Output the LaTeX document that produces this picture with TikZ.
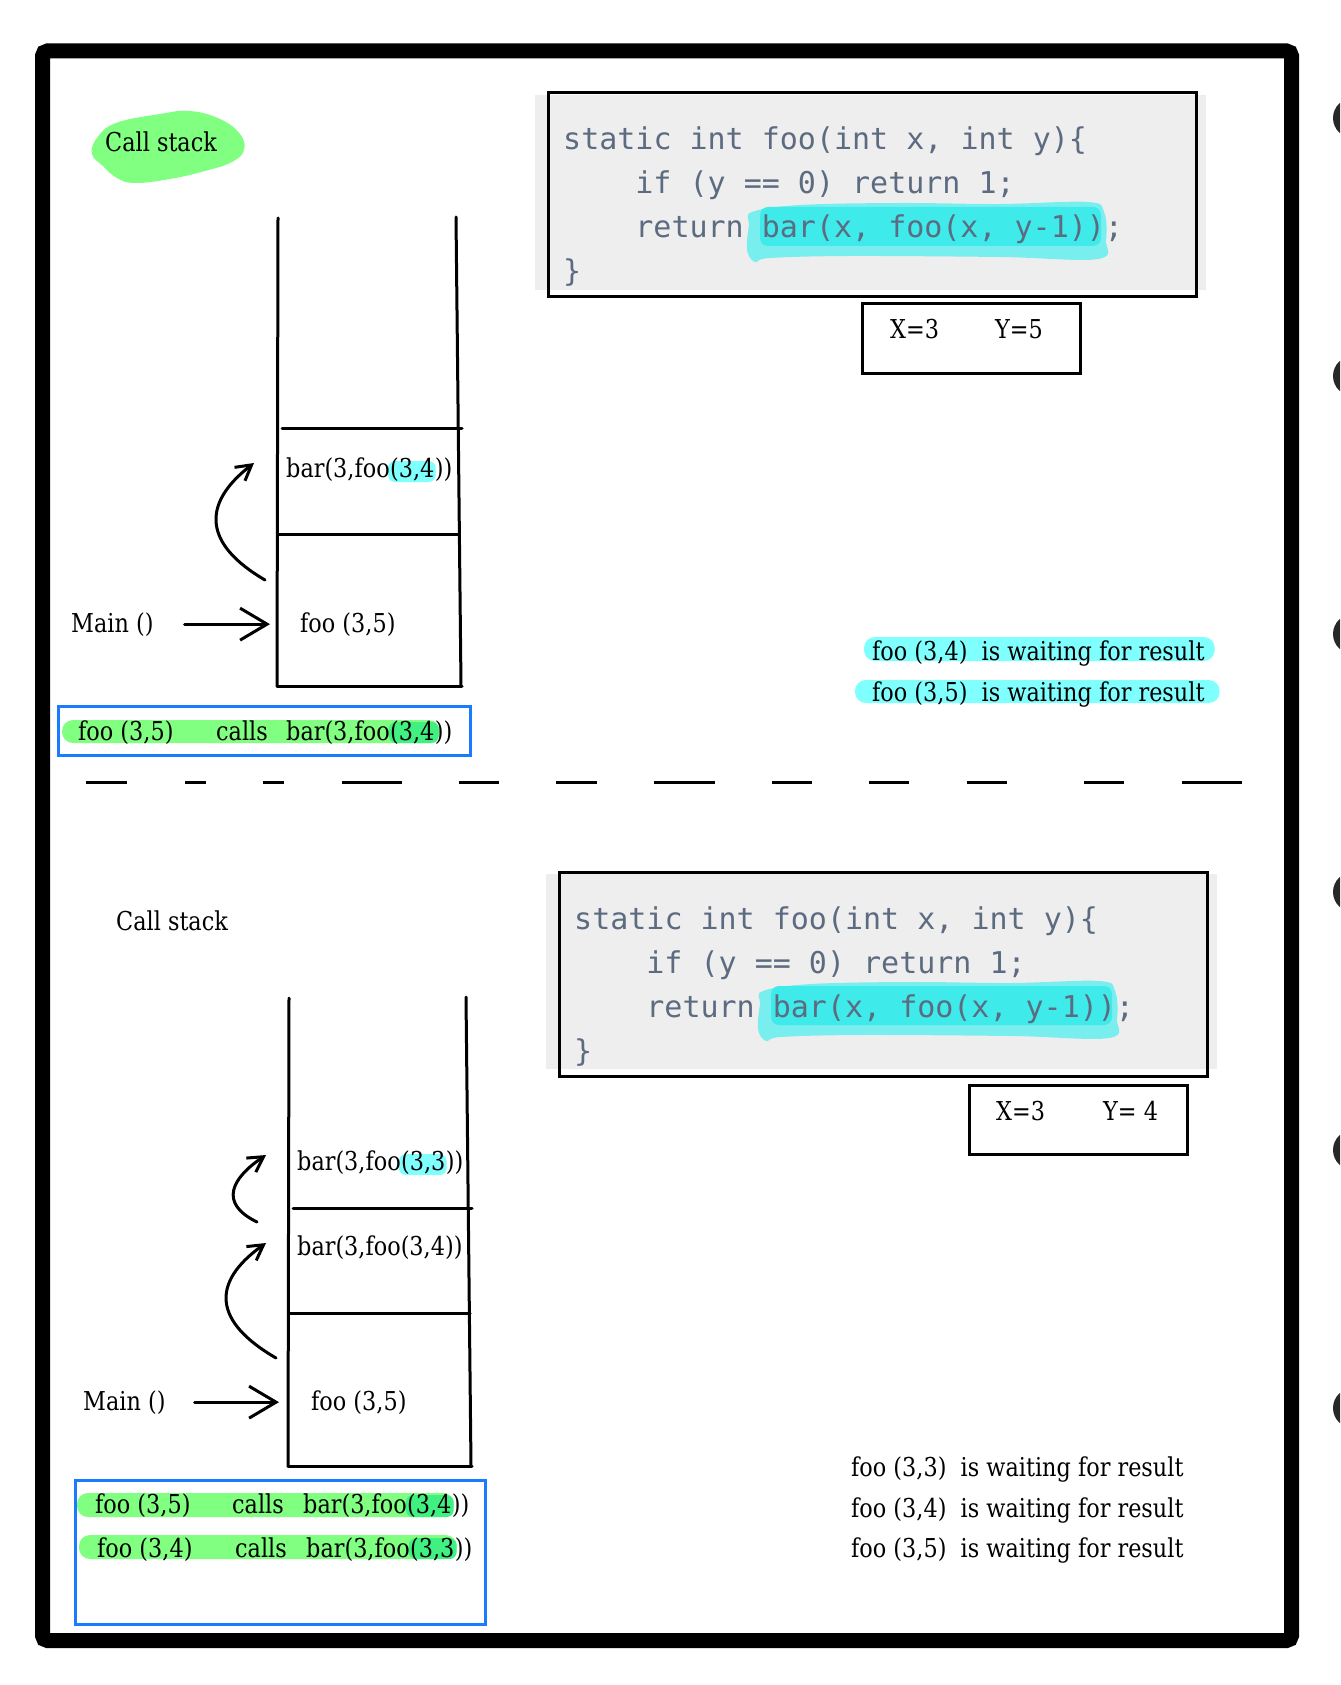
\documentclass[tikz,border=0pt]{standalone}
\usepackage{fontspec}
\setmainfont{DejaVu Serif}[FakeStretch=0.86]
\newfontfamily\codefont{DejaVu Sans Mono}
\usetikzlibrary{arrows.meta,backgrounds,calc}

\definecolor{hlgreen}{RGB}{128,255,128}
\definecolor{hlgreendark}{RGB}{64,240,128}
\definecolor{hlcyan}{RGB}{128,255,255}
\definecolor{markcore}{RGB}{62,234,234}
\definecolor{marksoft}{RGB}{120,238,238}
\definecolor{codebg}{RGB}{238,238,238}
\definecolor{codeink}{RGB}{92,107,128}
\definecolor{notebox}{RGB}{26,123,255}
\definecolor{tabdot}{RGB}{40,40,40}

\tikzset{
  lbl/.style={inner sep=0pt, anchor=base west, font=\fontsize{26}{31}\selectfont},
  codeline/.style={inner sep=0pt, anchor=base west, text=codeink,
    font=\codefont\fontsize{30}{36}\selectfont},
  stackline/.style={line width=3pt, line cap=round},
  boxline/.style={line width=3pt},
  mainarrow/.style={line width=3pt, line cap=round,
    -{Straight Barb[length=27pt,width=32pt,line width=3pt]}},
  pusharrow/.style={line width=3pt, line cap=round,
    -{Straight Barb[length=15pt,width=17pt,line width=3pt]}},
  band/.style={rounded corners=11pt},
}

% source listing with its marker stroke
\newcommand\listing[1]{%
  \fill[codebg] (535,95) rectangle (1206,290);
  \fill[marksoft] plot[smooth cycle, tension=0.6] coordinates {
    (752,212) (800,205) (900,203) (1000,204) (1088,202) (1104,212)
    (1106,240) (1098,259) (1000,257) (850,256) (770,258) (755,262)
    (747,250) (749,225)};
  \fill[markcore, rounded corners=8pt] (760,207) rectangle (1101,246);
  \draw[boxline] (548,93) rectangle (1196,297);
  \node[codeline] (#1a) at (563,150) {static int foo(int x, int y)\{};
  \node[codeline] (#1b) at (635.2,194) {if (y == 0) return 1;};
  \node[codeline] (#1c) at (635.2,238) {return bar(x, foo(x, y-1));};
  \node[codeline] (#1d) at (563,282) {\}};
}

\begin{document}
\begin{tikzpicture}[x=1pt,y=-1pt]
\useasboundingbox (0,0) rectangle (1340,1685);
\begin{scope}[on background layer]
  \fill[white] (0,0) rectangle (1340,1685);
\end{scope}
\clip (0,0) rectangle (1340,1685);

% page frame
\draw[line width=15pt, rounded corners=5pt] (42.5,51) rectangle (1291.5,1640.5);

% dark tabs at the right edge
\foreach \ty in {118,376,634,892,1150,1408}
  \fill[tabdot] (1353,\ty) circle[radius=20pt];

% ============ first step ============
\fill[hlgreen] plot[smooth cycle, tension=0.7] coordinates {
  (116,123) (160,114) (190,111) (220,119) (240,134) (244,150) (232,162)
  (205,171) (170,179) (135,183) (117,178) (103,166) (92,154) (97,138)};
\node[lbl] (cs1) at (105,152) {Call stack};

% stack
\draw[stackline] (278,218) -- (277,686);
\draw[stackline] (456,217) -- (461,686);
\draw[stackline] (282,428) -- (462,428);
\draw[stackline] (278,534) -- (459,534);
\draw[stackline] (277,686) -- (462,686);

\node[lbl] (bar1a) at (286,477) {bar(3,foo};
\node[lbl] (bar1b) at (bar1a.base east) {(3,4};
\node[lbl] (bar1c) at (bar1b.base east) {))};
\node[lbl] (foo1) at (300,632) {foo (3,5)};
\node[lbl] (main1) at (71,632) {Main ()};

\draw[mainarrow, shorten <=31pt, shorten >=30pt] (main1.east) -- (foo1.west);
\coordinate (up1s) at (265,580);
\coordinate (up1t) at (254,463);
\draw[pusharrow] (up1s) .. controls (205,545) and (200,505) .. (up1t);

% note box
\draw[notebox, line width=3pt] (58,706) rectangle (470,755);
\node[lbl] (n1a) at (78,740) {foo (3,5)};
\node[lbl] (n1b) at (216,740) {calls};
\node[lbl] (n1c) at (286,740) {bar(3,foo};
\node[lbl] (n1d) at (n1c.base east) {(3,4};
\node[lbl] (n1e) at (n1d.base east) {))};

% listing and arguments
\listing{codeA}
\draw[boxline] (862,304) rectangle (1080,373);
\node[lbl] (xa) at (890,338) {X=3};
\node[lbl] (ya) at (995,338) {Y=5};

\node[lbl] (w1) at (872,660) {foo (3,4)~ is waiting for result};
\node[lbl] (w2) at (872,701) {foo (3,5)~ is waiting for result};

% separator
\foreach \a/\b in {86/127,185/206,263/284,342/402,459/499,556/597,654/715,
                   772/812,869/909,967/1007,1084/1124,1182/1242}
  \draw[line width=3pt] (\a,782) -- (\b,782);

% ============ second step ============
\node[lbl] (cs2) at (116,930) {Call stack};

\draw[stackline] (289,998) -- (288,1466);
\draw[stackline] (466,997) -- (471,1466);
\draw[stackline] (293,1208) -- (472,1208);
\draw[stackline] (289,1313) -- (470,1313);
\draw[stackline] (288,1466) -- (472,1466);

\node[lbl] (bar3a) at (297,1170) {bar(3,foo};
\node[lbl] (bar3b) at (bar3a.base east) {(3,3};
\node[lbl] (bar3c) at (bar3b.base east) {))};
\node[lbl] (bar2) at (297,1255) {bar(3,foo(3,4))};
\node[lbl] (foo2) at (311,1410) {foo (3,5)};
\node[lbl] (main2) at (83,1410) {Main ()};

\draw[mainarrow, shorten <=29pt, shorten >=32pt] (main2.east) -- (foo2.west);
\coordinate (up2s) at (276,1358);
\coordinate (up2t) at (266,1243);
\draw[pusharrow] (up2s) .. controls (214,1322) and (210,1283) .. (up2t);
\coordinate (up3s) at (257,1222);
\coordinate (up3t) at (266,1155);
\draw[pusharrow] (up3s) .. controls (218,1203) and (232,1178) .. (up3t);

\draw[notebox, line width=3pt] (75,1480) rectangle (485,1624);
\node[lbl] (n2a) at (95,1513) {foo (3,5)};
\node[lbl] (n2b) at (232,1513) {calls};
\node[lbl] (n2c) at (303,1513) {bar(3,foo};
\node[lbl] (n2d) at (n2c.base east) {(3,4};
\node[lbl] (n2e) at (n2d.base east) {))};
\node[lbl] (n3a) at (97,1557) {foo (3,4)};
\node[lbl] (n3b) at (235,1557) {calls};
\node[lbl] (n3c) at (306,1557) {bar(3,foo};
\node[lbl] (n3d) at (n3c.base east) {(3,3};
\node[lbl] (n3e) at (n3d.base east) {))};

\begin{scope}[shift={(11,779)}]
  \listing{codeB}
\end{scope}
\draw[boxline] (969,1085) rectangle (1187,1154);
\node[lbl] (xb) at (996,1120) {X=3};
\node[lbl] (yb) at (1103,1120) {Y= 4};

\node[lbl] (w3) at (851,1476) {foo (3,3)~ is waiting for result};
\node[lbl] (w4) at (851,1517) {foo (3,4)~ is waiting for result};
\node[lbl] (w5) at (851,1557) {foo (3,5)~ is waiting for result};

% ============ highlighter marks ============
\begin{scope}[on background layer]
  \fill[hlcyan, rounded corners=7pt] ($(bar1b.base west)+(-2,-16)$) rectangle ($(bar1b.base east)+(1,5)$);
  \fill[hlcyan, rounded corners=7pt] ($(bar3b.base west)+(-2,-16)$) rectangle ($(bar3b.base east)+(1,5)$);

  \fill[hlgreen, band] (62,720) rectangle ($(n1d.base east)+(5,3)$);
  \fill[hlgreendark, rounded corners=7pt] ($(n1d.base west)+(-1,-18)$) rectangle ($(n1d.base east)+(4,3)$);
  \fill[hlgreen, band] (77,1493) rectangle ($(n2d.base east)+(2,4)$);
  \fill[hlgreendark, rounded corners=7pt] ($(n2d.base west)+(-1,-18)$) rectangle ($(n2d.base east)+(2,4)$);
  \fill[hlgreen, band] (79,1535) rectangle ($(n3d.base east)+(2,2)$);
  \fill[hlgreendark, rounded corners=7pt] ($(n3d.base west)+(-1,-19)$) rectangle ($(n3d.base east)+(2,2)$);

  \fill[hlcyan, band] ($(w1.base west)+(-8,-23)$) rectangle ($(w1.base east)+(10,1)$);
  \fill[hlcyan, band] ($(w2.base west)+(-17,-21)$) rectangle ($(w2.base east)+(15,2)$);
\end{scope}
\end{tikzpicture}
\end{document}
